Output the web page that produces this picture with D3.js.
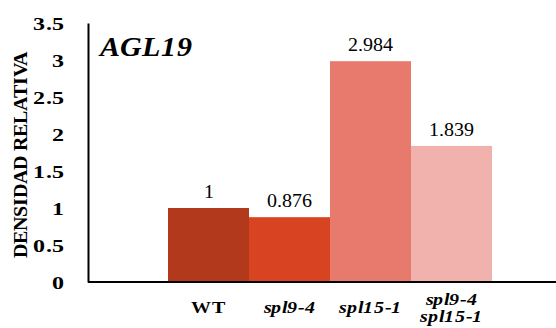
<!DOCTYPE html>
<html><head><meta charset="utf-8">
<script src="https://cdn.jsdelivr.net/npm/d3@7"></script>
<style>
html,body{margin:0;padding:0;background:#fff;}
@font-face{font-family:"RefSerif";src:local("Liberation Serif"),local("LiberationSerif");font-weight:400;font-style:normal;}
@font-face{font-family:"RefSerif";src:local("Liberation Serif Bold"),local("LiberationSerif-Bold");font-weight:700;font-style:normal;}
@font-face{font-family:"RefSerif";src:local("Liberation Serif Italic"),local("LiberationSerif-Italic");font-weight:400;font-style:italic;}
@font-face{font-family:"RefSerif";src:local("Liberation Serif Bold Italic"),local("LiberationSerif-BoldItalic");font-weight:700;font-style:italic;}
</style>
</head><body>
<svg id="chart" width="556" height="328"></svg>
<script>
const categories = ["WT", "spl9-4", "spl15-1", "spl9-4\nspl15-1"];
const values = [1, 0.876, 2.984, 1.839];
const valueLabels = ["1", "0.876", "2.984", "1.839"];
const italicCats = [false, true, true, true];
const colors = ["#B3391C", "#D84421", "#E8796D", "#F1B2AE"];
const yTicks = [0, 0.5, 1, 1.5, 2, 2.5, 3, 3.5];
const title = "AGL19";
const yTitle = "DENSIDAD RELATIVA";

const svg = d3.select("#chart");
const FONT = "\"RefSerif\", \"Liberation Serif\", \"DejaVu Serif\", serif";

// text drawn at 20px, scaled with a transform
function scaledText(parent, tx, ty, sx, sy, str, opts) {
  const g = parent.append("g").attr("transform", `translate(${tx},${ty}) scale(${sx},${sy})`);
  const t = g.append("text").attr("x", 0).attr("y", 0)
    .style("font-family", FONT).style("font-size", "20px")
    .style("font-weight", opts.bold ? "bold" : "normal")
    .style("font-style", opts.italic ? "italic" : "normal")
    .attr("text-anchor", opts.anchor || "start")
    .attr("fill", "#000")
    .text(str);
  return t;
}

const x = d3.scaleBand().domain(categories).range([168, 492]).padding(0);
const y = d3.scaleLinear().domain([0, 3.5]).range([282, 23]);

// bars
svg.selectAll("rect.bar").data(values).join("rect")
  .attr("class", "bar")
  .attr("x", (d, i) => x(categories[i]))
  .attr("width", x.bandwidth())
  .attr("y", d => y(d))
  .attr("height", d => y(0) - y(d))
  .attr("fill", (d, i) => colors[i]);

// value labels
values.forEach((v, i) => {
  scaledText(svg, x(categories[i]) + x.bandwidth() / 2, y(v) - 10, 1, 1, valueLabels[i], {anchor: "middle"});
});

// y axis
const yAxis = d3.axisLeft(y).tickValues(yTicks).tickSize(0).tickPadding(0).tickFormat(d3.format("~g"));
const gy = svg.append("g").attr("transform", "translate(88,0)").call(yAxis);
gy.attr("font-family", null);
gy.select(".domain").attr("stroke", "#000").attr("stroke-width", 2);
gy.selectAll(".tick text").remove();
gy.selectAll(".tick").each(function(d) {
  scaledText(d3.select(this), -24, 6, 1.2, 0.9, d3.format("~g")(d), {bold: true, anchor: "end"});
});

// x axis line
svg.append("line").attr("x1", 88).attr("x2", 556).attr("y1", y(0)).attr("y2", y(0))
  .attr("stroke", "#000").attr("stroke-width", 2);

// category labels
categories.forEach((c, i) => {
  const lines = c.split("\n");
  const cx = x(c) + x.bandwidth() / 2;
  const baseY = lines.length > 1 ? y(0) + 23 : y(0) + 31;
  lines.forEach((l, j) => {
    scaledText(svg, cx, baseY + j * 17, 1, 0.85, l, {bold: true, italic: italicCats[i], anchor: "middle"});
  });
});

// title
scaledText(svg, 100, 56, 1.5, 1.35, title, {bold: true, italic: true});

// y title
const gt = svg.append("g").attr("transform", "translate(27,155) rotate(-90)");
scaledText(gt, 0, 0, 1, 1, yTitle, {bold: true, anchor: "middle"});
</script>
</body></html>
